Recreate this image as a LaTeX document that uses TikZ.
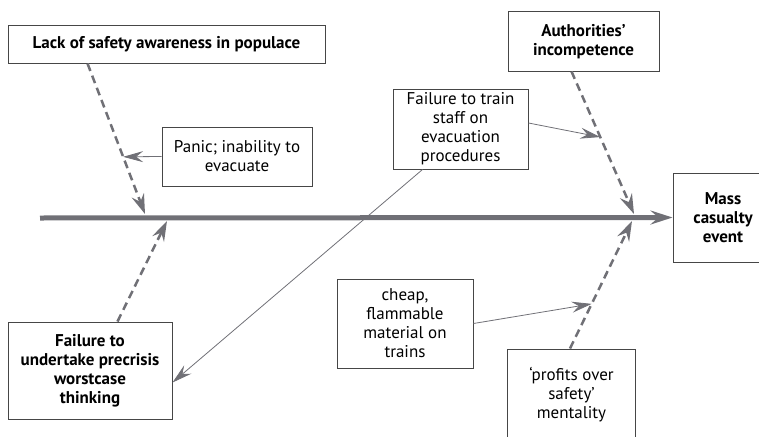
\documentclass[tikz,border=0pt]{standalone}
\usepackage{fontspec}
\setmainfont{PT Sans}
\usepackage{tikz}
\usetikzlibrary{arrows.meta, calc}
\definecolor{linegray}{RGB}{112,112,118}
\definecolor{boxgray}{RGB}{70,70,70}
\tikzstyle{cause} = [draw=boxgray, line width=1pt, rectangle, align=center, inner sep=0pt, text=black, font=\fontsize{17}{19}\selectfont]
\tikzstyle{bigcause} = [cause, font=\fontsize{17}{19}\selectfont\bfseries]
\tikzstyle{arrow} = [linegray, line width=0.8pt, -{Stealth[length=20pt,width=11pt,inset=7pt]}]
\tikzstyle{bone} = [linegray, line width=2.5pt, dash pattern=on 8pt off 5pt, -{Stealth[length=20pt,width=13pt,inset=7pt]}]
\tikzstyle{spine} = [linegray, line width=5pt, -{Stealth[length=22pt,width=14pt,inset=8pt]}]

\begin{document}
\begin{tikzpicture}[x=1pt,y=-1pt]
                \useasboundingbox (0,0) rectangle (759,436);
                % boxes
                \node[bigcause, minimum width=317pt, minimum height=37pt] (lack) at (166.5,44.5) {Lack of safety awareness in populace};
                \node[cause, minimum width=150pt, minimum height=59pt] (panic) at (237,156.5) {Panic; inability to\\evacuate};
                \node[bigcause, minimum width=151pt, minimum height=59pt] (auth) at (583.5,41.5) {Authorities’\\incompetence};
                \node[cause, minimum width=135pt, minimum height=80pt] (train) at (460.5,129) {Failure to train\\staff on\\evacuation\\procedures};
                \node[bigcause, minimum width=100pt, minimum height=89pt] (mass) at (723,217.5) {Mass\\casualty\\event};
                \node[bigcause, minimum width=164pt, minimum height=97pt] (precrisis) at (90,370.5) {Failure to\\undertake precrisis\\worstcase\\thinking};
                \node[cause, minimum width=136pt, minimum height=89pt] (cheap) at (405,323.5) {cheap,\\flammable\\material on\\trains};
                \node[cause, minimum width=128pt, minimum height=92pt] (profits) at (571.5,395) {‘profits over\\safety’\\mentality};
                % spine
                \coordinate (tail) at (40,218);
                \draw[spine] (tail) -- (mass.west);
                % bones
                \coordinate (j1) at (145,214);
                \coordinate (j2) at (167,221);
                \coordinate (j3) at (634,214);
                \coordinate (j4) at (632,221);
                \coordinate (s1) at ([xshift=80pt]lack.south west);
                \coordinate (s2) at ([xshift=64pt]auth.south west);
                \coordinate (s3) at ([xshift=110pt]precrisis.north west);
                \coordinate (s4) at ([xshift=63pt]profits.north west);
                \draw[bone] (s1) -- (j1);
                \draw[bone] (s2) -- (j3);
                \draw[bone] (s3) -- (j2);
                \draw[bone] (s4) -- (j4);
                % sub causes
                \draw[arrow] (panic.west) -- ($(s1)!0.62!(j1)$);
                \draw[arrow] ([yshift=6pt]train.east) -- ($(s2)!0.46!(j3)$);
                \draw[arrow] (cheap.east) -- ($(s4)!0.35!(j4)$);
                \draw[arrow] ([xshift=30pt]train.south west) -- ([yshift=-12pt]precrisis.east);
            \end{tikzpicture}
\end{document}
